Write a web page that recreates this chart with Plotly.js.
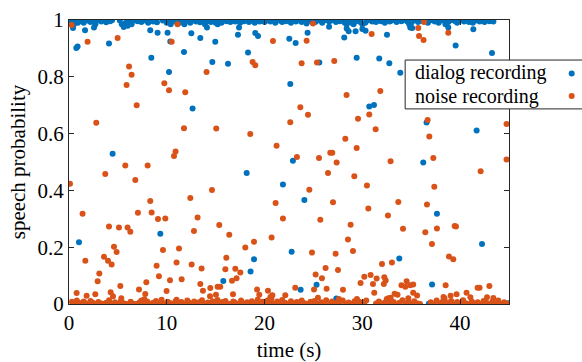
<!DOCTYPE html>
<html>
<head>
<meta charset="utf-8">
<script src="https://cdn.plot.ly/plotly-3.0.1.min.js"></script>
<style>html,body{margin:0;padding:0;background:#fff;}#chart{width:582px;height:362px;}
#chart text{font-family:'Liberation Serif','DejaVu Serif',serif !important;}</style>
</head>
<body>
<div id="chart"></div>
<script>
// ---- data: [time (s), speech probability] ----
const seriesNames = ['dialog recording', 'noise recording'];
const xTickVals = [0, 10, 20, 30, 40];
const xTickText = ['0', '10', '20', '30', '40'];
const yTickVals = [0, 0.2, 0.4, 0.6, 0.8, 1];
const yTickText = ['0', '0.2', '0.4', '0.6', '0.8', '1'];

const dialogScattered = [
  [0.41,0.972],[1.64,0.964],[2.56,0.974],[0.75,0.901],[0.88,0.907],[4.09,0.917],[8.42,0.867],[8.31,0.964],
  [9.06,0.955],[10.08,0.955],[10.23,0.817],[10.36,0.924],[11.76,0.887],[12.51,0.953],[13.43,0.937],[12.64,0.688],
  [4.46,0.529],[14.66,0.852],[14.11,0.974],[14.96,0.923],[16.26,0.846],[17.28,0.948],[17.39,0.974],[18.31,0.886],
  [19.05,0.954],[19.33,0.944],[22.53,0.934],[23.18,0.919],[24.4,0.955],[22.63,0.775],[25.6,0.85],[28.15,0.938],
  [28.4,0.97],[28.6,0.96],[29.31,0.96],[29.42,0.867],[22.9,0.504],[26.6,0.976],
  [18.17,0.461],[21.88,0.421],[24.07,0.366],[22.77,0.184],[18.92,0.158],[18.57,0.114],[15.78,0.081],[23.69,0.05],
  [25.32,0.068],[27.34,0.019],[25.4,0.001],[15.9,0.0],[1.02,0.217],[9.34,0.247],[5.1,0.002],[9.0,0.001],[13.1,0.001],
  [30.0,0.968],[30.33,0.962],[32.52,0.948],[34.9,0.974],[35.1,0.972],[38.79,0.974],[41.35,0.967],[39.54,0.91],
  [43.26,0.884],[31.73,0.864],[32.76,0.848],[33.88,0.814],[30.71,0.695],[31.19,0.701],[36.57,0.639],[41.69,0.611],
  [36.23,0.498],[37.63,0.318],[42.24,0.211],[33.78,0.16],[37.13,0.069],[44.9,0.003],[34.9,0.0],[36.8,0.001]
];
const dialogTopBand = [
  [0.1,1.0],[0.3,0.995],[0.5,0.985],[0.7,0.998],[0.9,0.99],[1.1,1.0],[1.3,0.996],[1.5,0.99],[1.8,1.0],[2.0,0.997],
  [2.2,0.993],[2.4,1.0],[2.7,0.985],[2.9,0.998],[3.1,1.0],[3.3,0.995],[3.5,0.999],[3.8,0.992],[4.0,1.0],[4.2,0.996],
  [4.4,0.999],[5.2,0.998],[5.4,0.985],[5.6,0.975],[5.8,0.99],[6.0,0.98],[6.2,0.995],[6.4,0.985],[6.6,0.998],[6.8,1.0],
  [7.0,0.996],[7.2,0.999],[7.4,0.993],[7.7,1.0],[7.9,0.997],[8.1,0.99],[8.3,1.0],[8.6,0.995],[8.8,0.999],[9.0,0.992],
  [9.6,0.998],[9.8,1.0],[10.0,0.99],[10.2,0.997],[10.4,0.985],[10.7,0.999],[10.9,0.995],[11.1,1.0],[11.3,0.99],[11.5,0.998],
  [11.8,0.985],[12.0,0.996],[12.2,1.0],[12.4,0.99],[12.7,0.998],[13.0,0.995],[13.2,1.0],[13.4,0.992],[13.6,0.999],[13.9,0.985],
  [14.1,0.995],[14.3,1.0],[14.5,0.993],[14.7,0.998],[15.0,0.99],[15.2,0.985],[15.4,0.998],[15.6,0.99],[15.9,1.0],[16.1,0.996],
  [16.3,0.999],[16.5,0.993],[16.8,1.0],[17.0,0.995],[17.2,0.998],[17.5,0.99],[17.7,1.0],[17.9,0.996],[18.1,0.999],[18.4,0.993],
  [18.6,1.0],[18.8,0.997],[19.0,0.99],[19.3,0.999],[19.5,0.995],[19.7,1.0],[20.0,0.993],[20.2,0.998],[20.4,1.0],[20.6,0.995],
  [20.9,0.999],[21.1,0.99],[21.3,1.0],[21.6,0.997],[21.8,0.993],[22.0,1.0],[22.2,0.996],[22.5,0.999],[22.7,0.99],[22.9,1.0],
  [23.2,0.995],[23.4,0.998],[23.6,1.0],[23.8,0.993],[24.1,0.999],[24.3,0.988],[24.5,1.0],[24.8,0.996],[25.0,0.999],[25.2,0.993],
  [25.4,1.0],[25.7,0.997],[25.9,0.99],[26.1,0.999],[26.4,1.0],[26.6,0.995],[26.8,0.998],[27.0,1.0],[27.3,0.993],[27.5,0.999],
  [27.7,0.996],[28.0,1.0],[28.2,0.99],[28.4,0.985],[28.6,0.998],[28.9,0.99],[29.1,0.985],[29.3,0.995],[29.6,1.0],[29.8,0.993],
  [30.0,0.985],[30.3,0.99],[30.5,0.998],[30.7,1.0],[31.0,0.995],[31.2,0.999],[31.4,0.993],[31.6,1.0],[31.9,0.996],[32.1,0.999],
  [32.3,0.99],[32.6,1.0],[32.8,0.995],[33.0,0.998],[33.3,1.0],[33.5,0.993],[33.8,0.999],[34.0,0.996],[34.3,1.0],[34.6,0.995],
  [34.8,0.985],[35.0,0.99],[35.3,0.998],[35.5,1.0],[35.7,0.993],[36.0,0.999],[36.2,0.996],[36.4,1.0],[36.7,0.99],[36.9,0.998],
  [37.1,1.0],[37.4,0.995],[37.6,0.999],[37.8,0.99],[38.1,0.998],[38.3,1.0],[38.5,0.985],[38.8,0.993],[39.0,0.999],[39.2,1.0],
  [39.5,0.996],[39.7,0.99],[39.9,0.998],[40.2,1.0],[40.4,0.995],[40.6,0.999],[40.9,0.993],[41.1,1.0],[41.3,0.99],[41.6,0.998],
  [41.8,1.0],[42.0,0.995],[42.3,0.999],[42.5,0.993],[42.7,1.0],[43.0,0.996],[43.2,0.999],[43.4,0.995]
];

const noiseScattered = [
  [0.27,0.982],[11.1,0.985],[1.9,0.923],[4.97,0.937],[10.5,0.923],[6.14,0.836],[6.4,0.807],[5.89,0.771],[9.75,0.777],
  [10.23,0.753],[11.89,0.746],[6.92,0.7],[2.79,0.638],[11.76,0.619],[14.07,0.817],[10.9,0.537],[10.74,0.521],
  [0.1,0.423],[3.71,0.458],[5.76,0.488],[8.04,0.488],[6.78,0.437],[1.39,0.318],[12.41,0.373],[14.62,0.401],[8.31,0.363],
  [7.05,0.321],[8.45,0.322],[9.1,0.299],[9.85,0.301],[13.15,0.305],[4.09,0.273],[5.11,0.269],[5.99,0.269],[6.27,0.254],
  [12.78,0.257],[9.61,0.19],[11.25,0.195],[1.67,0.152],[4.6,0.202],[4.87,0.183],[3.58,0.166],[3.99,0.152],[4.36,0.139],
  [8.96,0.135],[12.54,0.139],[13.56,0.125],[11.0,0.146],[3.1,0.107],[2.93,0.08],[9.2,0.098],[10.33,0.084],[11.52,0.087],
  [5.25,0.063],[7.91,0.077],[13.43,0.07],[7.16,0.051],[9.98,0.046],[13.7,0.047],[14.45,0.056],[0.78,0.039],[4.26,0.041],
  [2.69,0.034],[1.8,0.029],[4.5,0.027],[7.8,0.035],[5.35,0.02],[14.42,0.027],[9.47,0.015],[11.0,0.015],[7.7,0.017],
  [24.95,0.988],[20.86,0.926],[24.3,0.927],[18.78,0.852],[19.05,0.841],[23.79,0.848],[25.36,0.85],[27.13,0.856],[28.39,0.736],
  [23.66,0.693],[24.44,0.666],[22.63,0.64],[29.56,0.652],[15.06,0.618],[18.54,0.599],[28.26,0.582],[21.23,0.557],[29.42,0.549],
  [26.72,0.533],[26.93,0.533],[23.31,0.518],[25.57,0.514],[27.37,0.498],
  [26.49,0.461],[29.18,0.45],[24.58,0.402],[21.13,0.356],[27.0,0.358],[21.88,0.301],[25.7,0.297],[15.37,0.278],[28.8,0.279],
  [16.39,0.244],[20.72,0.234],[28.53,0.227],[18.03,0.199],[18.92,0.219],[29.04,0.187],[24.85,0.181],[27.27,0.177],[16.09,0.163],
  [26.24,0.127],[15.99,0.122],[17.01,0.124],[27.51,0.12],[17.52,0.111],[25.22,0.104],[17.14,0.091],[16.67,0.082],[25.87,0.091],
  [15.2,0.061],[15.47,0.061],[19.23,0.051],[20.35,0.047],[23.14,0.057],[25.06,0.051],[26.35,0.054],[28.02,0.05],[15.03,0.033],
  [16.77,0.034],[19.46,0.033],[20.8,0.031],[20.6,0.025],[22.12,0.031],[25.46,0.022],[27.6,0.018],[29.45,0.018],
  [36.31,0.993],[30.95,0.951],[35.72,0.972],[35.8,0.944],[36.26,0.93],[38.79,0.955],[31.84,0.75],[30.71,0.667],[31.36,0.615],
  [36.68,0.648],[36.85,0.59],[44.75,0.634],[32.89,0.503],[37.26,0.514],[44.75,0.509],
  [42.1,0.467],[30.47,0.417],[37.36,0.413],[30.61,0.336],[33.68,0.359],[36.61,0.35],[32.62,0.312],[34.16,0.265],[36.44,0.253],
  [37.63,0.266],[39.44,0.275],[39.58,0.273],[37.12,0.211],[38.86,0.167],[39.3,0.158],[32.01,0.141],[33.03,0.146],[30.2,0.096],
  [30.85,0.102],[31.46,0.09],[32.25,0.094],[32.39,0.083],[29.82,0.074],[31.09,0.07],[32.2,0.07],[34.53,0.08],[34.0,0.066],
  [34.4,0.061],[34.9,0.066],[35.2,0.069],[38.52,0.066],[41.79,0.057],[41.99,0.057],[42.99,0.063],[31.22,0.04],[33.3,0.036],
  [33.6,0.033],[35.2,0.04],[35.6,0.03],[39.64,0.034],[40.66,0.04],[39.03,0.029],[41.05,0.024],[38.3,0.025],[38.4,0.02],
  [32.66,0.02],[32.9,0.022],[32.5,0.018],[42.75,0.024],[43.4,0.021],[34.7,0.02]
];
const noiseBottomBand = [
  [0.3,0.008],[0.5,0.002],[0.8,0.012],[1.0,0.004],[1.2,0.0],[1.5,0.009],[1.7,0.003],[2.0,0.0],[2.2,0.011],[2.4,0.005],
  [2.7,0.0],[3.0,0.007],[3.3,0.002],[3.5,0.0],[3.8,0.004],[4.1,0.013],[4.3,0.001],[4.7,0.006],[5.0,0.0],[5.3,0.01],
  [5.6,0.003],[5.9,0.0],[6.3,0.008],[6.6,0.001],[6.9,0.0],[7.2,0.005],[7.4,0.012],[7.6,0.002],[8.0,0.009],[8.3,0.0],
  [8.6,0.004],[8.9,0.011],[9.2,0.001],[9.5,0.006],[9.8,0.0],[10.1,0.008],[10.4,0.003],[10.6,0.0],[10.9,0.01],[11.3,0.002],
  [11.5,0.007],[11.8,0.0],[12.1,0.012],[12.3,0.004],[12.6,0.0],[12.8,0.009],[13.1,0.002],[13.3,0.006],[13.6,0.013],[13.9,0.001],
  [14.2,0.005],[14.4,0.0],[14.7,0.01],[15.0,0.003],[15.2,0.014],[15.4,0.0],[15.7,0.007],[16.0,0.011],[16.2,0.002],[16.5,0.0],
  [16.8,0.009],[17.0,0.004],[17.3,0.0],[17.6,0.012],[17.9,0.001],[18.2,0.006],[18.4,0.0],[18.7,0.01],[19.0,0.003],[19.3,0.015],
  [19.5,0.002],[19.8,0.008],[20.1,0.0],[20.3,0.012],[20.5,0.005],[20.7,0.018],[21.0,0.001],[21.3,0.009],[21.6,0.0],[21.8,0.014],
  [22.1,0.004],[22.4,0.0],[22.7,0.01],[23.0,0.002],[23.3,0.007],[23.5,0.0],[23.8,0.012],[24.1,0.003],[24.4,0.0],[24.7,0.008],
  [24.9,0.001],[25.1,0.011],[25.5,0.0],[25.8,0.006],[26.0,0.002],[26.3,0.013],[26.6,0.0],[26.9,0.009],[27.2,0.003],[27.5,0.0],
  [27.7,0.007],[28.0,0.012],[28.3,0.001],[28.6,0.005],[28.9,0.0],[29.2,0.01],[29.4,0.003],[29.7,0.008],[30.0,0.0],[30.2,0.006],
  [30.4,0.012],[31.4,0.002],[31.7,0.009],[32.0,0.0],[32.3,0.005],[32.6,0.011],[32.9,0.001],[33.2,0.007],[33.5,0.0],[33.8,0.004],
  [34.1,0.013],[34.4,0.002],[34.7,0.008],[35.0,0.0],[35.3,0.01],[35.6,0.003],[35.9,0.0],[37.0,0.006],[37.3,0.0],[37.6,0.012],
  [37.9,0.002],[38.2,0.008],[38.5,0.0],[38.8,0.005],[39.1,0.011],[39.4,0.001],[39.7,0.007],[40.0,0.0],[40.3,0.013],[40.6,0.003],
  [40.9,0.0],[41.2,0.009],[41.5,0.002],[41.8,0.006],[42.1,0.0],[42.4,0.011],[42.7,0.004],[43.0,0.0],[43.3,0.008],[43.6,0.002],
  [43.9,0.012],[44.2,0.0],[44.5,0.006],[44.8,0.001]
];

const dialogPoints = dialogTopBand.concat(dialogScattered);
const noisePoints = noiseScattered.concat(noiseBottomBand);

const blue = '#0072BD';
const orange = '#D95319';
const axisColor = '#262626';
const fontFamily = 'Liberation Serif';

const traces = [
  {type: 'scatter', mode: 'markers', name: ' ',
   x: dialogPoints.map(d => d[0]), y: dialogPoints.map(d => d[1]),
   marker: {color: blue, size: 6}},
  {type: 'scatter', mode: 'markers', name: ' ',
   x: noisePoints.map(d => d[0]), y: noisePoints.map(d => d[1]),
   marker: {color: orange, size: 6}}
];

function axisBase() {
  return {
    ticks: 'inside', ticklen: 5, tickwidth: 1, tickcolor: axisColor,
    showline: true, linecolor: axisColor, linewidth: 1, mirror: 'ticks',
    showgrid: false, zeroline: false,
    tickfont: {family: fontFamily, size: 21, color: '#000'}
  };
}

const layout = {
  width: 582, height: 362,
  margin: {l: 69, r: 73, t: 20, b: 58, autoexpand: false},
  paper_bgcolor: '#fff', plot_bgcolor: '#fff',
  font: {family: fontFamily, size: 21, color: '#000'},
  showlegend: true,
  xaxis: Object.assign(axisBase(), {
    range: [0, 45], tickmode: 'array', tickvals: xTickVals, ticktext: xTickText,
    title: {text: 'time (s)', font: {family: fontFamily, size: 21, color: '#000'}}
  }),
  yaxis: Object.assign(axisBase(), {
    range: [0, 1], tickmode: 'array', tickvals: yTickVals, ticktext: yTickText,
    title: {text: 'speech probability', standoff: 6, font: {family: fontFamily, size: 21, color: '#000'}}
  }),
  legend: {x: 1.097, xanchor: 'left', y: 0.869, yanchor: 'top',
           bgcolor: 'rgba(0,0,0,0)', borderwidth: 0, font: {family: fontFamily, size: 15},
           tracegroupgap: 0},
  shapes: [{type: 'rect', xref: 'paper', yref: 'paper', x0: 0.764, x1: 1.4, y0: 0.687, y1: 0.859,
            fillcolor: '#fff', line: {color: axisColor, width: 1}, layer: 'above'}],
  annotations: [
    {xref: 'paper', yref: 'paper', x: 0.782, y: 0.8136, xanchor: 'left', yanchor: 'middle', showarrow: false,
     text: seriesNames[0], font: {family: fontFamily, size: 20, color: '#000'}},
    {xref: 'paper', yref: 'paper', x: 0.782, y: 0.730, xanchor: 'left', yanchor: 'middle', showarrow: false,
     text: seriesNames[1], font: {family: fontFamily, size: 20, color: '#000'}}
  ]
};

const gd = document.getElementById('chart');
function forceSerif() {
  gd.querySelectorAll('text').forEach(function (t) {
    t.style.setProperty('font-family', "'Liberation Serif', 'DejaVu Serif', serif", 'important');
  });
}
Plotly.newPlot(gd, traces, layout, {staticPlot: true}).then(function () {
  forceSerif();
  setTimeout(forceSerif, 20);
}).catch(function () {});
</script>
</body>
</html>
